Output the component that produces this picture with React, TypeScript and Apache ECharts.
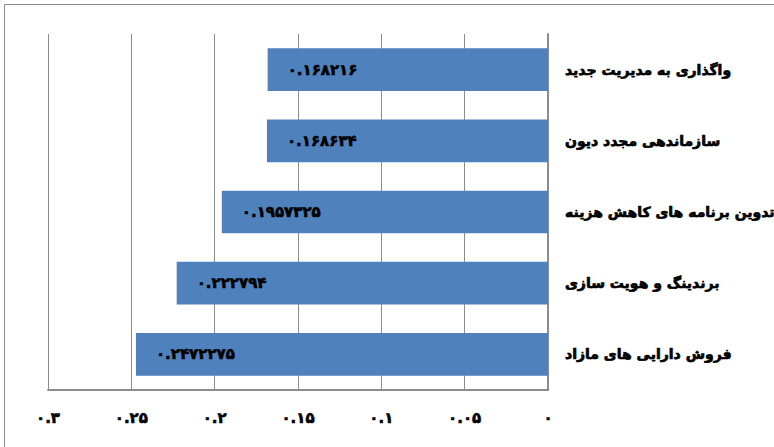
import React, { useEffect, useRef } from "react";
import * as echarts from "echarts";

const categories = [
  "واگذاری به مدیریت جدید",
  "سازماندهی مجدد دیون",
  "تدوین برنامه های کاهش هزینه",
  "برندینگ و هویت سازی",
  "فروش دارایی های مازاد",
];
const values = [0.168216, 0.168634, 0.1957325, 0.222794, 0.2472275];
const axisMin = 0;
const axisMax = 0.3;
const axisStep = 0.05;

const faDigits = "۰۱۲۳۴۵۶۷۸۹";
const toFa = (s: string) => s.replace(/[0-9]/g, (d) => faDigits[Number(d)]);
const fmtTick = (v: number) => toFa(String(Number(v.toFixed(4))));

export default function App() {
  const ref = useRef<HTMLDivElement>(null);
  useEffect(() => {
    if (!ref.current) return;
    const chart = echarts.init(ref.current, null, { renderer: "svg" });
    const font = "'DejaVu Sans', 'Noto Sans', sans-serif";
    chart.setOption({
      animation: false,
      backgroundColor: "#ffffff",
      textStyle: { fontFamily: font },
      graphic: [
        {
          type: "rect",
          shape: { x: 4.5, y: 4.5, width: 800, height: 500 },
          style: { fill: "none", stroke: "#8c8c8c", lineWidth: 1 },
          silent: true,
        },
      ],
      grid: {
        left: 48,
        right: 226,
        top: 34,
        bottom: 57,
        containLabel: false,
        outerBoundsMode: "none",
      },
      xAxis: {
        type: "value",
        inverse: true,
        min: axisMin,
        max: axisMax,
        interval: axisStep,
        axisLine: { show: true, lineStyle: { color: "#8c8c8c", width: 2 } },
        axisTick: { show: false },
        splitLine: { show: true, lineStyle: { color: "#8c8c8c", width: 1 } },
        axisLabel: {
          formatter: (v: number) => fmtTick(v),
          color: "#000",
          fontWeight: "bold",
          fontSize: 15,
          fontFamily: font,
          margin: 20,
          textBorderColor: "#000",
          textBorderWidth: 0.6,
        },
      },
      yAxis: {
        type: "category",
        position: "right",
        inverse: true,
        data: categories,
        axisLine: { show: true, lineStyle: { color: "#8c8c8c", width: 2 } },
        axisTick: { show: false },
        axisLabel: {
          color: "#000",
          fontWeight: "bold",
          fontSize: 14,
          fontFamily: font,
          margin: 17,
          align: "left",
          textBorderColor: "#000",
          textBorderWidth: 0.7,
        },
      },
      series: [
        {
          type: "bar",
          data: values,
          barCategoryGap: "40%",
          itemStyle: { color: "#4F81BD" },
          label: {
            show: true,
            position: "insideLeft",
            distance: 20,
            formatter: (p: any) => toFa(String(p.value)),
            color: "#000",
            fontWeight: "bold",
            fontSize: 15,
            fontFamily: font,
            textBorderColor: "#000",
            textBorderWidth: 0.6,
          },
        },
      ],
    });
    return () => chart.dispose();
  }, []);
  return (
    <div
      ref={ref}
      style={{ position: "fixed", left: 0, top: 0, width: 774, height: 447 }}
    />
  );
}
